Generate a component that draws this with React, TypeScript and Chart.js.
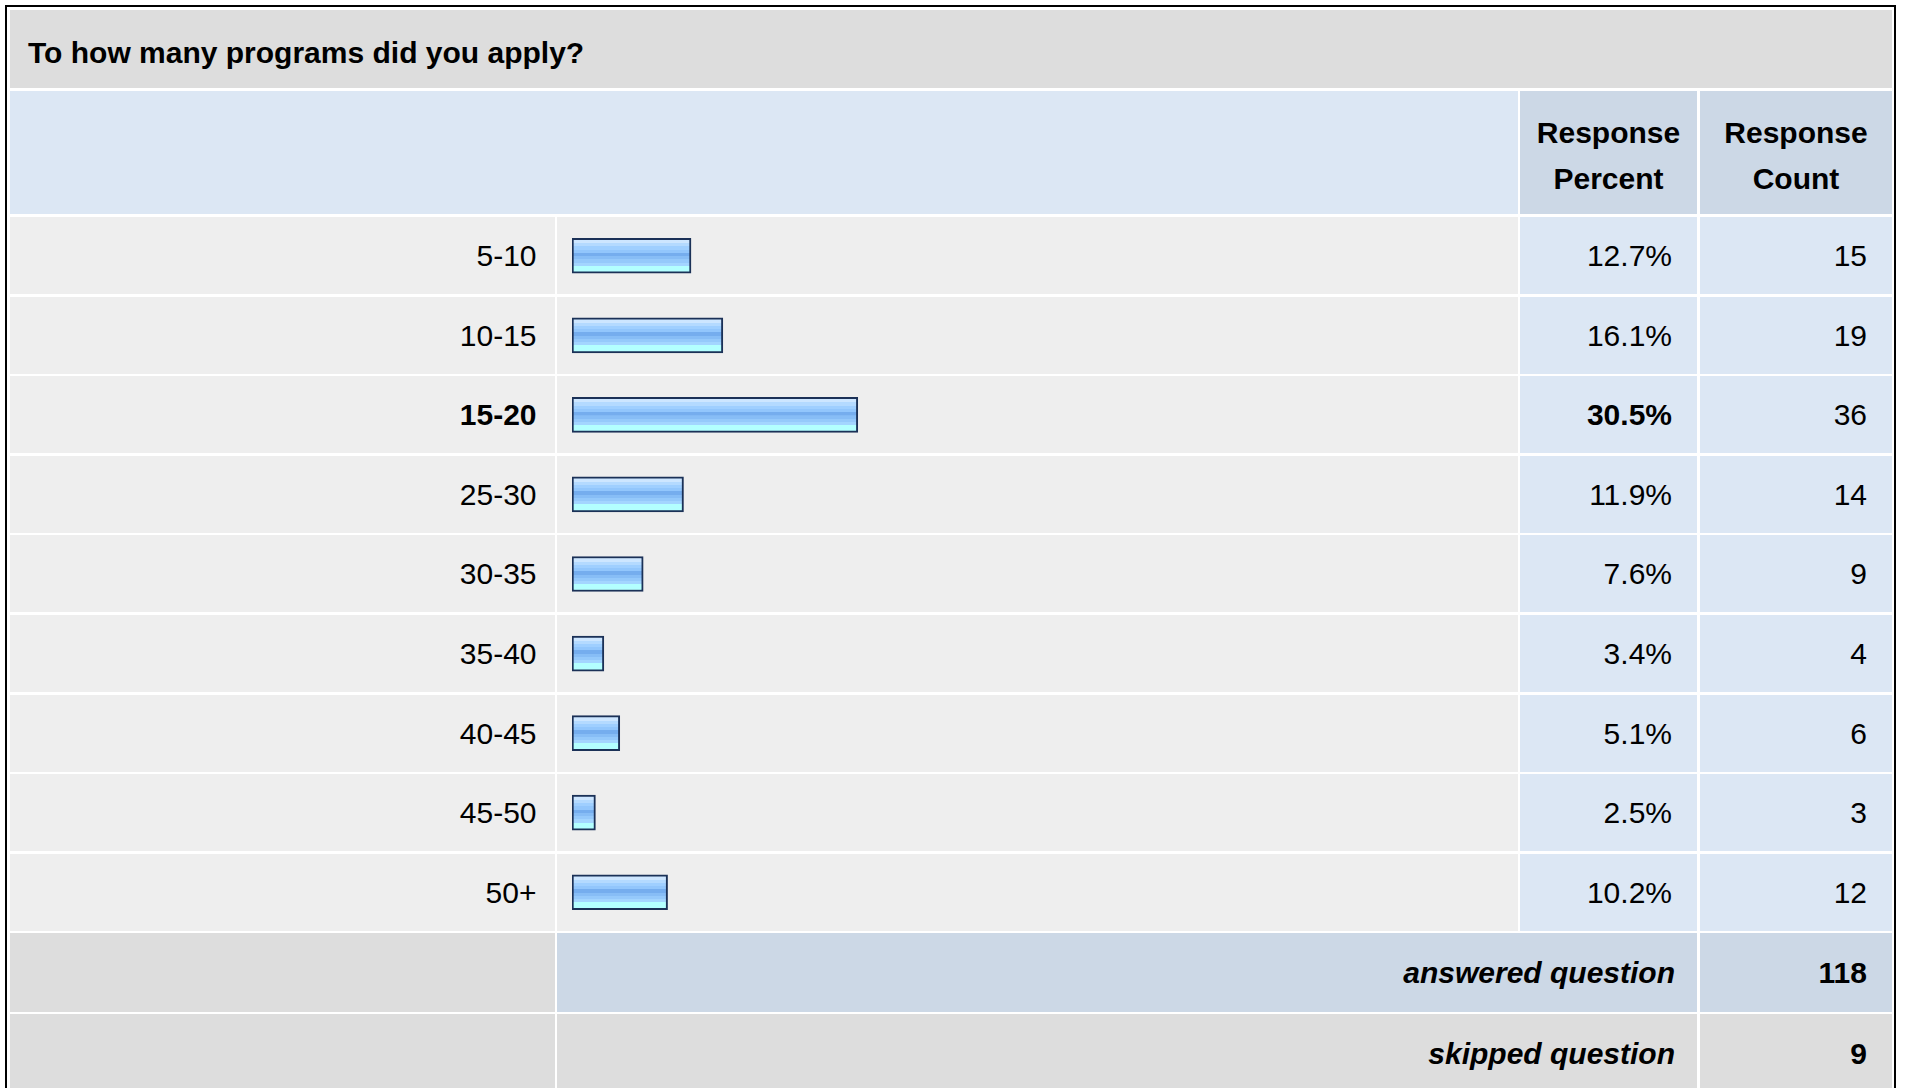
import React, { useEffect, useRef } from "react";
import { Chart, registerables } from "chart.js";

Chart.register(...registerables);

const title = "To how many programs did you apply?";
const categories = ["5-10", "10-15", "15-20", "25-30", "30-35", "35-40", "40-45", "45-50", "50+"];
const percents = [12.7, 16.1, 30.5, 11.9, 7.6, 3.4, 5.1, 2.5, 10.2];
const counts = [15, 19, 36, 14, 9, 4, 6, 3, 12];
const boldRows = [2];
const headerPercent = ["Response", "Percent"];
const headerCount = ["Response", "Count"];
const footerLabels = ["answered question", "skipped question"];
const footerValues = [118, 9];

const FONT = "'Liberation Sans', Arial, Helvetica, sans-serif";
const FS = 30;

const X_LABEL = [10, 555];
const X_BAR = [557, 1518];
const X_PCT = [1520, 1697];
const X_CNT = [1700, 1892];
const ROW0 = 217;
const PITCH = 79.6;
const ROW_H = 77;

const C_TITLE = "#dddddd";
const C_HEAD = "#dce7f4";
const C_HEAD_DARK = "#ccd8e6";
const C_ROW = "#eeeeee";
const C_ROW_BLUE = "#dce7f4";

const gradientStops: [number, string][] = [
  [0.0, "#cde6ff"],
  [0.1, "#b4daff"],
  [0.2, "#9fcfff"],
  [0.3, "#92c6fc"],
  [0.4, "#75adee"],
  [0.52, "#87bdf6"],
  [0.62, "#95c9fb"],
  [0.72, "#a3d5ff"],
  [0.82, "#b3ffff"],
  [1.0, "#b3ffff"],
];

type CellProps = {
  x: number[];
  top: number;
  bottom: number;
  bg: string;
  align?: "left" | "right" | "center";
  pad?: number;
  padTop?: number;
  children?: React.ReactNode;
  style?: React.CSSProperties;
};

function Cell({ x, top, bottom, bg, align = "right", pad = 0, padTop = 0, children, style }: CellProps) {
  return (
    <div
      style={{
        position: "absolute",
        left: x[0],
        top,
        width: x[1] - x[0],
        height: bottom - top,
        background: bg,
        display: "flex",
        alignItems: "center",
        justifyContent: align === "right" ? "flex-end" : align === "left" ? "flex-start" : "center",
        textAlign: align,
        boxSizing: "border-box",
        paddingRight: align === "right" ? pad : 0,
        paddingLeft: align === "left" ? pad : 0,
        paddingTop: padTop,
        fontFamily: FONT,
        fontSize: FS,
        color: "#000",
        whiteSpace: "nowrap",
        ...style,
      }}
    >
      {children}
    </div>
  );
}

function BarChart({ left, top, width, height }: { left: number; top: number; width: number; height: number }) {
  const ref = useRef<HTMLCanvasElement | null>(null);
  useEffect(() => {
    if (!ref.current) return;
    const chart = new Chart(ref.current, {
      type: "bar",
      data: {
        labels: categories,
        datasets: [
          {
            data: percents,
            barThickness: 35,
            borderWidth: 2,
            borderColor: "#1b3157",
            borderSkipped: false,
            backgroundColor: (c: any) => {
              const ch = c.chart;
              const ys = ch.scales && ch.scales.y;
              if (!ys || c.dataIndex === undefined) return "#95c9fb";
              const cy = ys.getPixelForValue(c.dataIndex);
              if (!Number.isFinite(cy)) return "#95c9fb";
              const g = ch.ctx.createLinearGradient(0, cy - 15.5, 0, cy + 15.5);
              for (let i = 0; i < gradientStops.length; i++) {
                const [o, col] = gradientStops[i];
                g.addColorStop(o, col);
                if (i + 1 < gradientStops.length) g.addColorStop(Math.max(o, gradientStops[i + 1][0] - 0.001), col);
              }
              return g;
            },
          } as any,
        ],
      },
      options: {
        indexAxis: "y",
        responsive: false,
        animation: false,
        maintainAspectRatio: false,
        layout: { padding: { left: 15, right: 9, top: 0, bottom: 0 } },
        scales: {
          x: { min: 0, max: 100, display: false, grid: { display: false } },
          y: { type: "category", display: false, offset: true, grid: { display: false } },
        },
        plugins: { legend: { display: false }, tooltip: { enabled: false } },
      },
    });
    return () => chart.destroy();
  }, []);
  return (
    <canvas
      ref={ref}
      width={width}
      height={height}
      style={{ position: "absolute", left, top, width, height }}
    />
  );
}

export default function App() {
  const rowTop = (i: number) => Math.round(ROW0 + i * PITCH);
  const rowBottom = (i: number) => Math.round(ROW0 + i * PITCH + ROW_H);
  const n = categories.length;
  const ansTop = rowTop(n);
  const ansBottom = ansTop + 79;
  const skTop = ansBottom + 2;
  const skBottom = skTop + 80;
  const canvasTop = Math.round(ROW0 - (PITCH - ROW_H) / 2);
  const canvasH = Math.round(n * PITCH);

  return (
    <div style={{ position: "fixed", left: 0, top: 0, width: 1907, height: 1088, overflow: "hidden", background: "#fff" }}>
      <div
        style={{
          position: "absolute",
          left: 5,
          top: 5,
          width: 1891,
          height: 1200,
          border: "2px solid #000",
          boxSizing: "border-box",
        }}
      />
      <Cell x={[10, 1892]} top={10} bottom={88} bg={C_TITLE} align="left" pad={18} padTop={8} style={{ fontWeight: "bold" }}>
        {title}
      </Cell>
      <Cell x={[10, 1518]} top={91} bottom={214} bg={C_HEAD} />
      <Cell x={X_PCT} top={91} bottom={214} bg={C_HEAD_DARK} align="center" padTop={6} style={{ fontWeight: "bold", lineHeight: "46px", flexDirection: "column" }}>
        {headerPercent.map((t) => (
          <div key={t}>{t}</div>
        ))}
      </Cell>
      <Cell x={X_CNT} top={91} bottom={214} bg={C_HEAD_DARK} align="center" padTop={6} style={{ fontWeight: "bold", lineHeight: "46px", flexDirection: "column" }}>
        {headerCount.map((t) => (
          <div key={t}>{t}</div>
        ))}
      </Cell>
      {categories.map((cat, i) => {
        const bold = boldRows.includes(i);
        const t = rowTop(i);
        const b = rowBottom(i);
        return (
          <React.Fragment key={cat}>
            <Cell x={X_LABEL} top={t} bottom={b} bg={C_ROW} pad={18.5} style={{ fontWeight: bold ? "bold" : "normal" }}>
              {cat}
            </Cell>
            <Cell x={X_BAR} top={t} bottom={b} bg={C_ROW} />
            <Cell x={X_PCT} top={t} bottom={b} bg={C_ROW_BLUE} pad={25} style={{ fontWeight: bold ? "bold" : "normal" }}>
              {percents[i].toFixed(1) + "%"}
            </Cell>
            <Cell x={X_CNT} top={t} bottom={b} bg={C_ROW_BLUE} pad={25}>
              {String(counts[i])}
            </Cell>
          </React.Fragment>
        );
      })}
      <Cell x={X_LABEL} top={ansTop} bottom={ansBottom} bg={C_TITLE} />
      <Cell x={[X_BAR[0], X_PCT[1]]} top={ansTop} bottom={ansBottom} bg={C_HEAD_DARK} pad={22} style={{ fontWeight: "bold", fontStyle: "italic" }}>
        {footerLabels[0]}
      </Cell>
      <Cell x={X_CNT} top={ansTop} bottom={ansBottom} bg={C_HEAD_DARK} pad={25} style={{ fontWeight: "bold" }}>
        {String(footerValues[0])}
      </Cell>
      <Cell x={X_LABEL} top={skTop} bottom={skBottom} bg={C_TITLE} />
      <Cell x={[X_BAR[0], X_PCT[1]]} top={skTop} bottom={skBottom} bg={C_TITLE} pad={22} style={{ fontWeight: "bold", fontStyle: "italic" }}>
        {footerLabels[1]}
      </Cell>
      <Cell x={X_CNT} top={skTop} bottom={skBottom} bg={C_TITLE} pad={25} style={{ fontWeight: "bold" }}>
        {String(footerValues[1])}
      </Cell>
      <BarChart left={X_BAR[0]} top={canvasTop} width={X_BAR[1] - X_BAR[0]} height={canvasH} />
    </div>
  );
}
